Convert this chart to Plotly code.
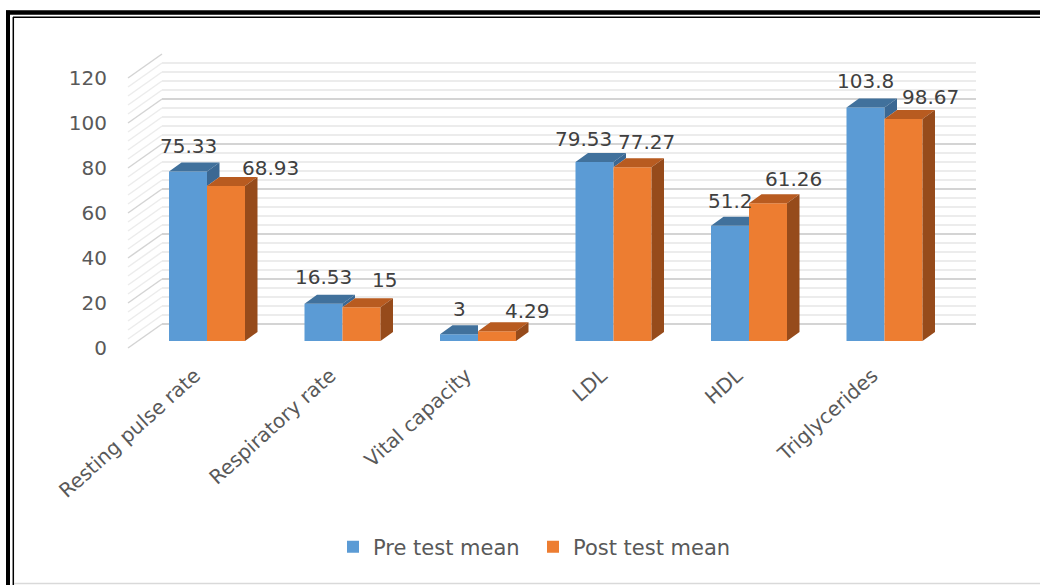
import plotly.graph_objects as go

# ---------------- data ----------------
categories = ["Resting pulse rate", "Respiratory rate", "Vital capacity",
              "LDL", "HDL", "Triglycerides"]
pre_test = [75.33, 16.53, 3, 79.53, 51.2, 103.8]
post_test = [68.93, 15, 4.29, 77.27, 61.26, 98.67]
series_names = ["Pre test mean", "Post test mean"]
y_tick_values = [0, 20, 40, 60, 80, 100, 120]

# ---------------- style / layout helpers ----------------
W, H = 1040, 585
FONT = "DejaVu Sans"
TXT = "#595959"
LBL = "#404040"
BLUE, BLUE_TOP, BLUE_SIDE = "#5B9BD5", "#41719C", "#3B6893"
ORANGE, ORANGE_TOP, ORANGE_SIDE = "#ED7D31", "#B85B20", "#964B1B"


def px(x):
    return x / W


def py(y):
    return 1 - y / H


Y_MAX = 120
UNIT = 270 / Y_MAX            # pixels per value unit
CAT_STEP = 135.5              # pixels per category
BAR_W = 38 / CAT_STEP         # one bar width in category units
DX = 12.5 / CAT_STEP          # depth offset (x) in category units
DY = 9 / UNIT                 # depth offset (y) in value units

idx = list(range(len(categories)))

fig = go.Figure()

# ---- invisible anchor traces for wall subplot and label axis ----
fig.add_trace(go.Scatter(x=[0], y=[0], xaxis="x", yaxis="y", mode="markers",
                         marker=dict(opacity=0), showlegend=False, hoverinfo="skip"))
fig.add_trace(go.Scatter(x=[0], y=[0], xaxis="x3", yaxis="y3", mode="markers",
                         marker=dict(opacity=0), showlegend=False, hoverinfo="skip"))

# ---- front faces (bars) ----
fig.add_trace(go.Bar(x=idx, y=pre_test, width=BAR_W, offset=-BAR_W, name=series_names[0],
                     marker=dict(color=BLUE, line=dict(width=0)), xaxis="x2", yaxis="y2"))
fig.add_trace(go.Bar(x=idx, y=post_test, width=BAR_W, offset=0, name=series_names[1],
                     marker=dict(color=ORANGE, line=dict(width=0)), xaxis="x2", yaxis="y2"))


def poly_trace(xs, ys, color):
    return go.Scatter(x=xs, y=ys, mode="lines", fill="toself", fillcolor=color,
                      line=dict(width=0, color=color), xaxis="x2", yaxis="y2",
                      showlegend=False, hoverinfo="skip")


# blue top faces and visible side slivers
bt_x, bt_y, bs_x, bs_y = [], [], [], []
for i, vb, vo in zip(idx, pre_test, post_test):
    L, R = i - BAR_W, i
    if vo >= vb:
        bt_x += [L, L + DX, R, R, L, None]
        bt_y += [vb, vb + DY, vb + DY, vb, vb, None]
    else:
        bt_x += [L, L + DX, R + DX, R, L, None]
        bt_y += [vb, vb + DY, vb + DY, vb, vb, None]
        bs_x += [R, R + DX, R + DX, R, R, None]
        bs_y += [vo, vo + DY, vb + DY, vb, vo, None]
fig.add_trace(poly_trace(bt_x, bt_y, BLUE_TOP))
if bs_x:
    fig.add_trace(poly_trace(bs_x, bs_y, BLUE_SIDE))

# orange top and side faces
ot_x, ot_y, os_x, os_y = [], [], [], []
for i, vo in zip(idx, post_test):
    L, R = i, i + BAR_W
    ot_x += [L, L + DX, R + DX, R, L, None]
    ot_y += [vo, vo + DY, vo + DY, vo, vo, None]
    os_x += [R, R + DX, R + DX, R, R, None]
    os_y += [0, DY, vo + DY, vo, 0, None]
fig.add_trace(poly_trace(ot_x, ot_y, ORANGE_TOP))
fig.add_trace(poly_trace(os_x, os_y, ORANGE_SIDE))

# ---- data labels ----
pre_label_shift = [(0, 25), (0, 26), (0, 24), (-11, 22), (0, 24), (0, 25)]
post_label_shift = [(44, 17), (23, 26), (30, 19), (14, 24), (25, 23), (27, 21)]
annotations = []
for i, v, (sx, sy) in zip(idx, pre_test, pre_label_shift):
    annotations.append(dict(x=i - BAR_W / 2, y=v, xref="x2", yref="y2", text=f"{v:g}",
                            showarrow=False, xshift=sx, yshift=sy + 1, yanchor="middle",
                            font=dict(family=FONT, size=20, color=LBL)))
for i, v, (sx, sy) in zip(idx, post_test, post_label_shift):
    annotations.append(dict(x=i + BAR_W / 2, y=v, xref="x2", yref="y2", text=f"{v:g}",
                            showarrow=False, xshift=sx, yshift=sy + 1, yanchor="middle",
                            font=dict(family=FONT, size=20, color=LBL)))

# ---- side wall diagonal grid lines & frame ----
shapes = []
FRONT_X, BACK_X = 128, 162
FRONT_Y0, BACK_Y0 = 348, 324
for v in range(0, Y_MAX + 1, 4):
    major = v % 20 == 0
    shapes.append(dict(type="line", xref="paper", yref="paper", layer="below",
                       x0=px(FRONT_X), y0=py(FRONT_Y0 - v * UNIT),
                       x1=px(BACK_X), y1=py(BACK_Y0 - v * UNIT),
                       line=dict(color="#d4d4d4" if major else "#ececec", width=1.5)))

# double black frame
shapes += [
    dict(type="line", xref="paper", yref="paper", x0=px(6), x1=px(1040), y0=py(12.5), y1=py(12.5),
         line=dict(color="black", width=4.5)),
    dict(type="line", xref="paper", yref="paper", x0=px(8), x1=px(8), y0=py(10.5), y1=py(585),
         line=dict(color="black", width=4)),
    dict(type="line", xref="paper", yref="paper", x0=px(13), x1=px(1040), y0=py(17.3), y1=py(17.3),
         line=dict(color="black", width=1.5)),
    dict(type="line", xref="paper", yref="paper", x0=px(13.3), x1=px(13.3), y0=py(17), y1=py(585),
         line=dict(color="black", width=1.5)),
    dict(type="line", xref="paper", yref="paper", x0=px(14), x1=px(1040), y0=py(583.5), y1=py(583.5),
         line=dict(color="#d9d9d9", width=1.5)),
]

# ---- layout ----
BAR_LEFT = 207 - CAT_STEP / 2  # left edge of first category band (px)
fig.update_layout(
    width=W, height=H,
    margin=dict(l=0, r=0, t=0, b=0, pad=0, autoexpand=False),
    paper_bgcolor="white", plot_bgcolor="rgba(0,0,0,0)",
    barmode="overlay",
    font=dict(family=FONT, size=20, color=TXT),
    showlegend=True,
    legend=dict(orientation="h", x=px(533), y=py(547), xanchor="center", yanchor="middle",
                font=dict(family=FONT, size=21, color=TXT), bgcolor="rgba(0,0,0,0)",
                entrywidth=155, entrywidthmode="pixels"),
    annotations=annotations,
    shapes=shapes,
    # back wall
    xaxis=dict(domain=[px(162), px(976)], range=[0, 1], visible=False, fixedrange=True,
               automargin=False),
    yaxis=dict(domain=[py(324), py(54)], range=[0, Y_MAX], anchor="x", automargin=False,
               showticklabels=False, ticks="", showline=False,
               showgrid=True, gridcolor="#d4d4d4", gridwidth=1.5, dtick=20,
               zeroline=True, zerolinecolor="#d4d4d4", zerolinewidth=1.5,
               minor=dict(dtick=4, showgrid=True, gridcolor="#ececec", gridwidth=1.5)),
    # bars
    xaxis2=dict(domain=[px(BAR_LEFT), px(BAR_LEFT + CAT_STEP * len(categories))],
                range=[-0.5, len(categories) - 0.5], anchor="y2", automargin=False,
                tickmode="array", tickvals=idx, ticktext=categories, tickangle=-42,
                ticks="", showline=False, showgrid=False, zeroline=False,
                ticklabelshift=-12, ticklabelstandoff=18,
                tickfont=dict(family=FONT, size=20, color=TXT)),
    yaxis2=dict(domain=[py(341), py(341 - Y_MAX * UNIT)], range=[0, Y_MAX], anchor="x2",
                visible=False, automargin=False),
    # value labels on the front edge
    xaxis3=dict(domain=[px(108), px(128)], range=[0, 1], visible=False, anchor="y3",
                automargin=False),
    yaxis3=dict(domain=[py(348), py(78)], range=[0, Y_MAX], anchor="x3", automargin=False,
                tickmode="array", tickvals=y_tick_values, ticks="", showline=False,
                showgrid=False, zeroline=False,
                tickfont=dict(family=FONT, size=20, color=TXT)),
)

fig.write_html("out.html", config={"displayModeBar": False},
               post_script="document.body.style.margin='0';document.body.style.overflow='hidden';")
